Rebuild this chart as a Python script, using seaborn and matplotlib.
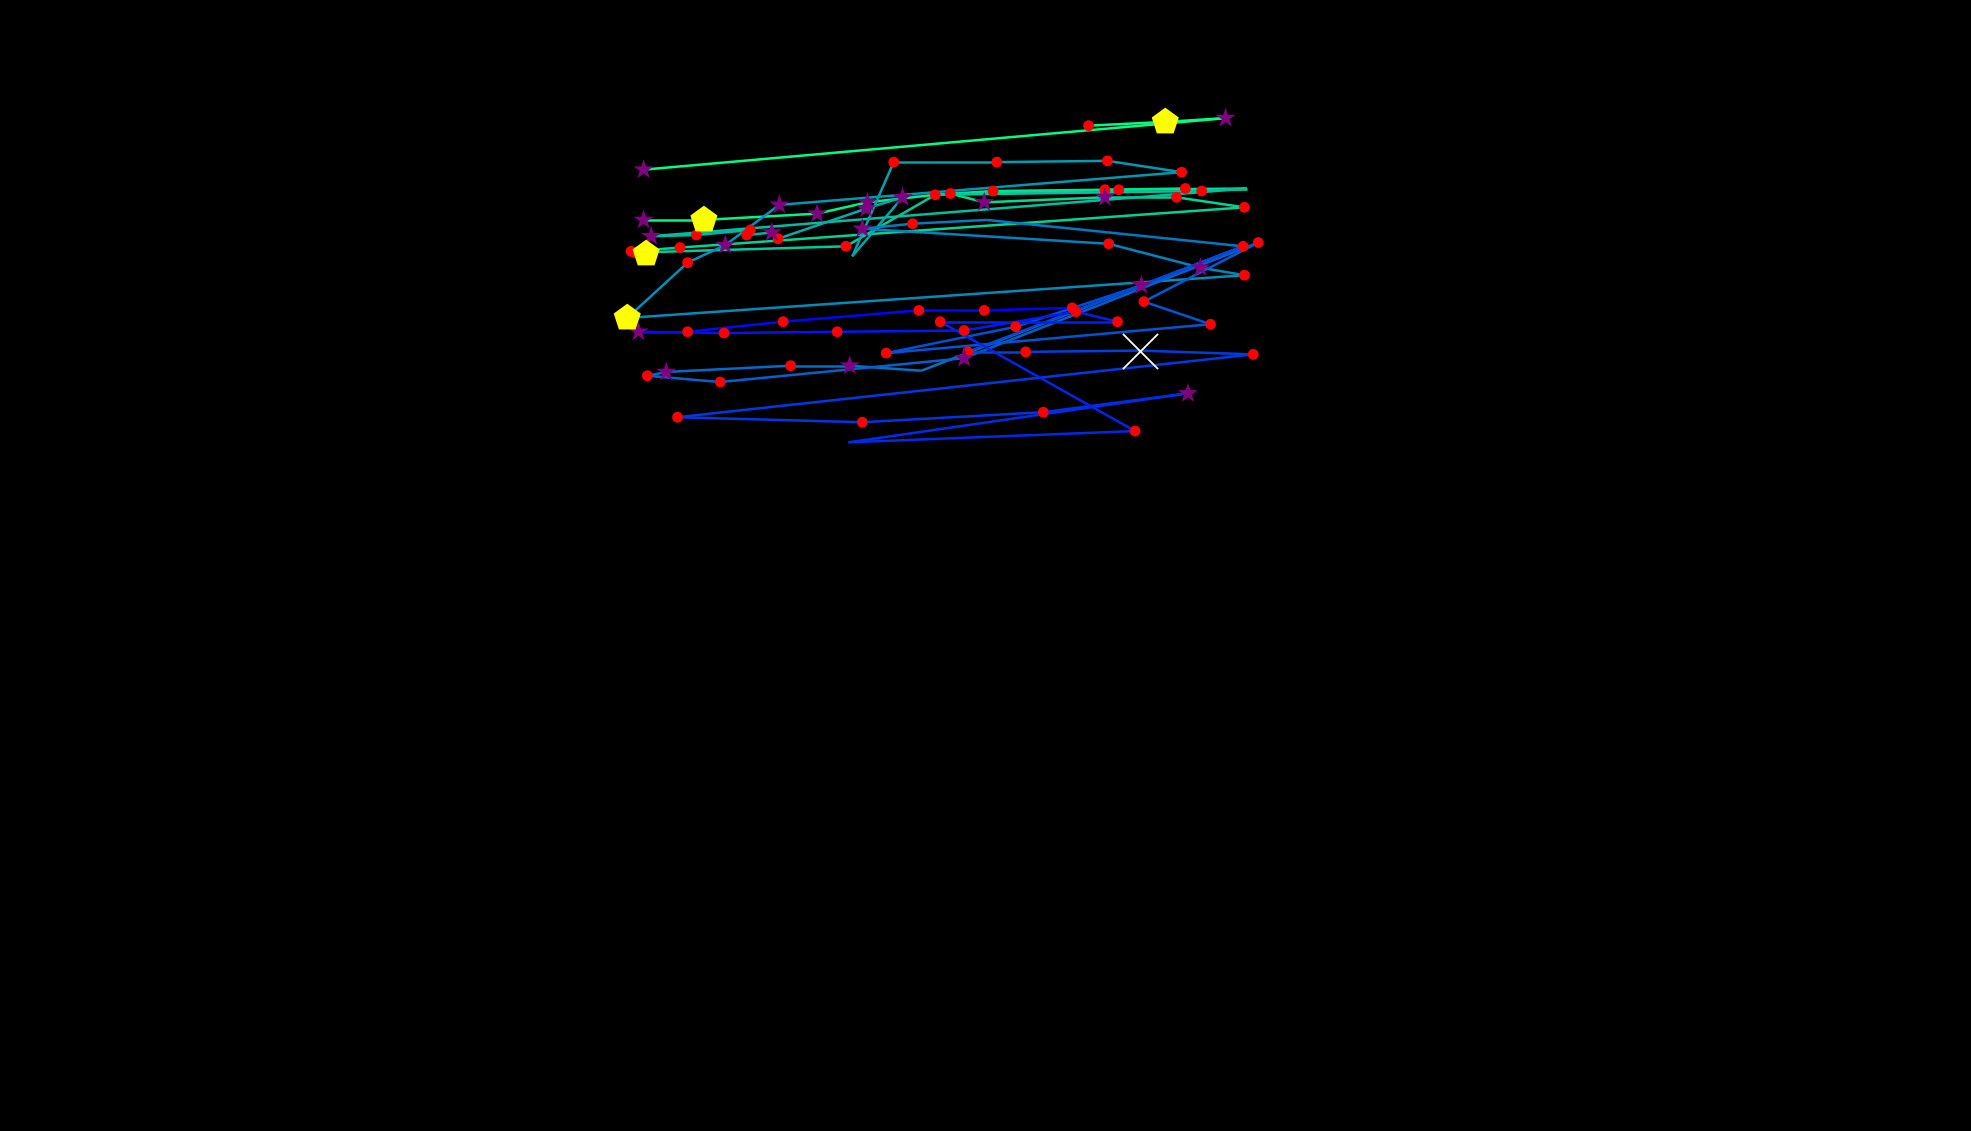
import numpy as np
import matplotlib
matplotlib.use("Agg")
import matplotlib.pyplot as plt
from matplotlib.collections import LineCollection
import seaborn as sns

# Trajectory of the walker (screen-like units, y grows downward).
# NaN marks a break between two runs.
path_x = [866, 927, 975, 512, np.nan,
          512, 560, 650, 690, 744, 790, 879, 943, 992,
          890, 756, 783, 879, 936, 990,
          541, 502, 505, 673, 744, 956, 992,
          518, 554, 597, 594, 614, 619, 689, 718, 678,
          711, 793, 881, 940,
          620, 577, 547, 499, 990,
          955, 882, 686, 726, 785, 989,
          733, 676, 629, 530, 515, 573, 767, 1001,
          910, 963, 705, 808, 908, 989,
          770, 816, 907, 997,
          539, 686, 830, 945, 675, 903,
          748, 889, 856, 767, 666, 576, 508, 547, 623, 731, 783, 853]
path_y = [100, 97, 94, 135, np.nan,
          175, 175, 170, 161, 155, 152, 151, 150, 150,
          151, 154, 161, 157, 157, 165,
          197, 200, 201, 196, 155, 152, 150,
          188, 187, 183, 187, 185, 190, 166, 157, 204,
          129, 129, 128, 137,
          163, 195, 209, 253, 219,
          213, 194, 182, 178, 175, 196,
          295, 291, 291, 296, 299, 304, 285, 193,
          240, 258, 281, 260, 227, 196,
          280, 280, 279, 282,
          332, 336, 328, 313, 352, 343,
          256, 256, 248, 263, 264, 265, 264, 264, 256, 247, 247, 245]

# waypoints (red dots)
waypoint_x = [866, 711, 793, 881, 940, 744, 756, 790, 879, 890, 943, 956, 936, 990,
              726, 882, 989, 1001, 990, 910, 963, 889, 853, 856, 783, 731, 748, 767,
              808, 666, 623, 576, 547, 705, 770, 816, 997, 629, 573, 515, 539, 686,
              830, 903, 502, 505, 541, 554, 547, 594, 597, 619, 673]
waypoint_y = [100, 129, 129, 128, 137, 155, 154, 152, 151, 151, 150, 152, 157, 165,
              178, 194, 196, 193, 219, 240, 258, 256, 245, 248, 247, 247, 256, 263,
              260, 264, 256, 265, 264, 281, 280, 280, 282, 291, 304, 299, 332, 336,
              328, 343, 200, 201, 197, 187, 209, 187, 183, 190, 196]

# events (purple stars)
event_x = [975, 512, 512, 518, 620, 650, 690, 689, 718, 783, 879, 577, 614, 686,
           908, 955, 508, 530, 676, 767, 945]
event_y = [94, 135, 175, 188, 163, 170, 161, 166, 157, 161, 157, 195, 185, 182,
           227, 213, 264, 296, 291, 285, 313]

# goals (yellow pentagons)
goal_x = [927, 560, 514, 499]
goal_y = [97, 175, 202, 253]

# final target (white cross)
target_x = [907]
target_y = [279]

sns.set_theme(style="dark", rc={"axes.facecolor": "black", "figure.facecolor": "black"})

fig = plt.figure(figsize=(19.71, 11.31), dpi=100)
ax = fig.add_axes([0, 0, 1, 1])
ax.set_facecolor("black")

# colour the path by time, green -> blue
px = np.array(path_x, dtype=float)
py = np.array(path_y, dtype=float)
n = len(px)
segs, vals = [], []
for i in range(n - 1):
    if np.isnan(px[i]) or np.isnan(px[i + 1]):
        continue
    segs.append([(px[i], py[i]), (px[i + 1], py[i + 1])])
    vals.append(1.0 - (i / (n - 2)) ** 1.15)
lc = LineCollection(segs, cmap="winter", linewidths=1.8, zorder=1)
lc.set_array(np.array(vals))
lc.set_clim(0, 1)
ax.add_collection(lc)

sns.scatterplot(x=waypoint_x, y=waypoint_y, color="red", marker="o", s=60,
                edgecolor="none", ax=ax, zorder=3)
sns.scatterplot(x=event_x, y=event_y, color="purple", marker="*", s=230,
                edgecolor="none", ax=ax, zorder=4)
sns.scatterplot(x=goal_x, y=goal_y, color="yellow", marker="p", s=420,
                edgecolor="none", ax=ax, zorder=5)
ax.scatter(target_x, target_y, color="white", marker="x", s=640, linewidths=1.3, zorder=6)

ax.set_xlim(0, 1568)
ax.set_ylim(900, 0)
ax.axis("off")

plt.savefig("out.png", dpi=100, facecolor="black")
